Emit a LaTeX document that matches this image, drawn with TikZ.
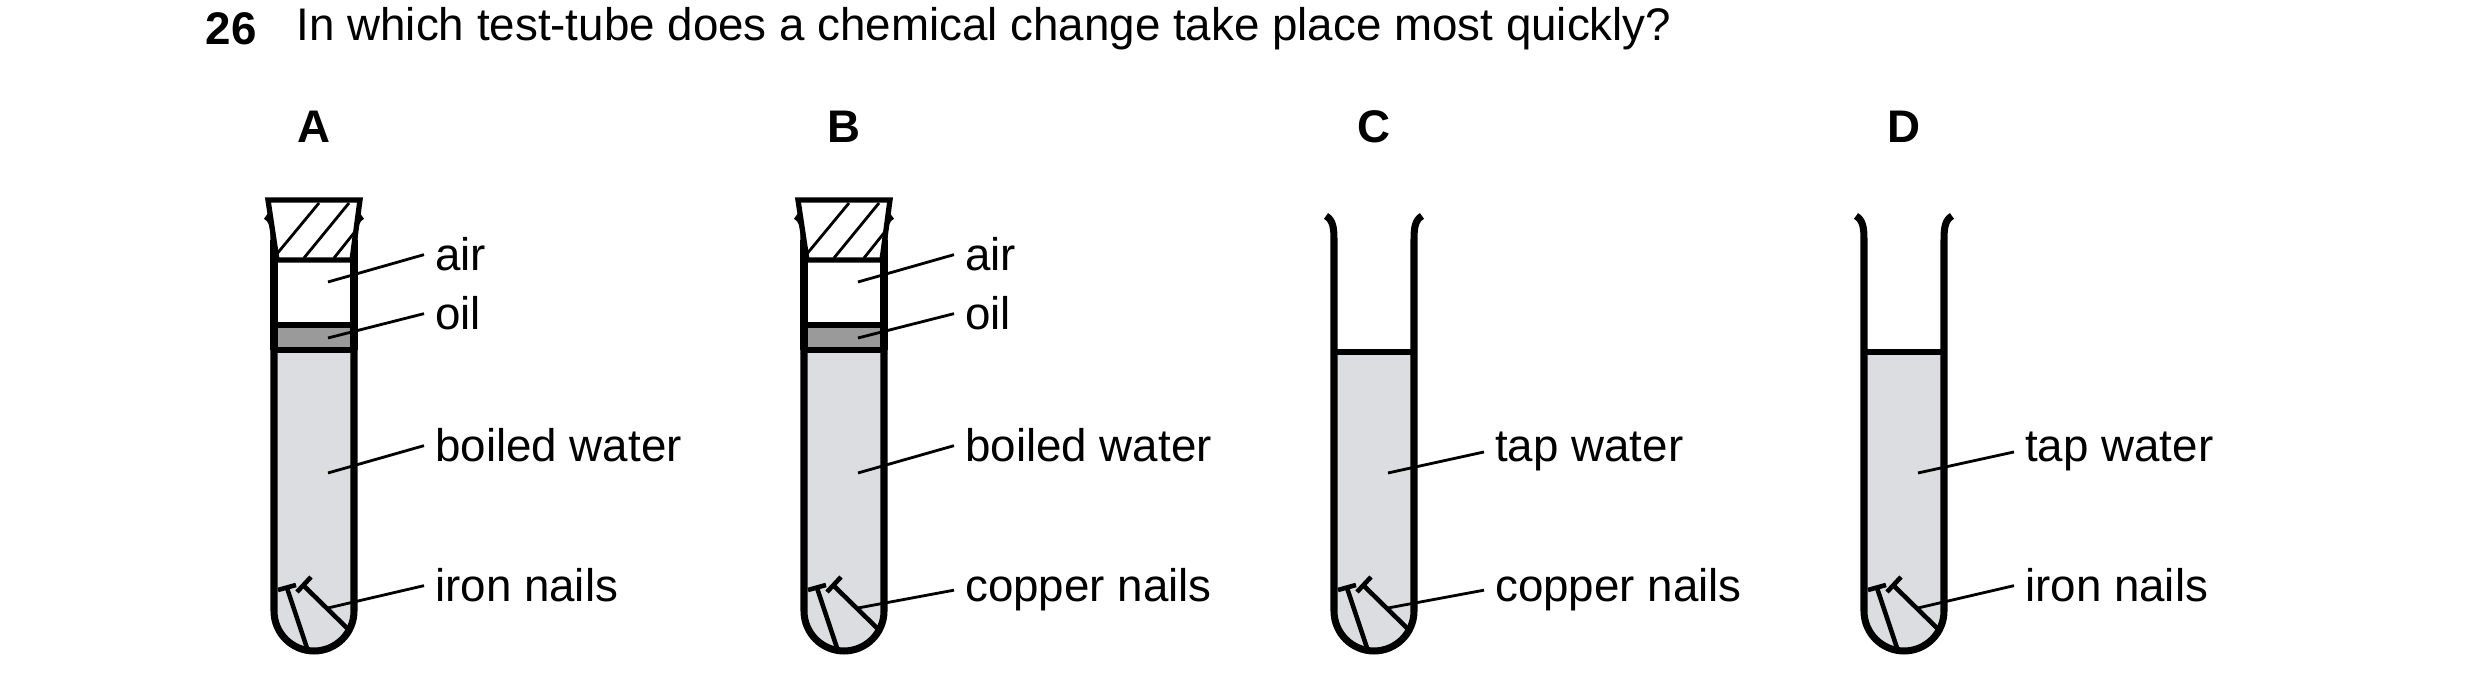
\documentclass[tikz,border=0pt]{standalone}
\usepackage{fontspec}
\setmainfont{Liberation Sans}
\definecolor{water}{HTML}{DCDDE0}
\definecolor{oilc}{HTML}{9A9A9A}
\tikzset{
  wall/.style={line width=2pt, line join=round},
  leader/.style={line width=0.8pt},
  lbl/.style={anchor=base west, inner ysep=0pt, inner xsep=3pt, font=\fontsize{13}{15}\selectfont},
  waterTop/.initial=352,
  tube/.pic={
    % contents
    \fill[water] (-40,\pgfkeysvalueof{/tikz/waterTop}) -- (-40,611) arc[start angle=180, end angle=360, x radius=40, y radius=-40] -- (40,\pgfkeysvalueof{/tikz/waterTop}) -- cycle;
    \draw[line width=1.5pt] (-40,\pgfkeysvalueof{/tikz/waterTop}) -- (40,\pgfkeysvalueof{/tikz/waterTop});
    % nails
    \draw[line width=1.3pt] (-36,590) -- (-18,585) (-27,588) -- (-7,648)
                            (-17,592) -- (-3,577) (-11,585) -- (35,630);
    % glass
    \draw[wall] (-48,216) .. controls (-41,220) and (-40,228) .. (-40,240) -- (-40,611)
      arc[start angle=180, end angle=360, x radius=40, y radius=-40] -- (40,240)
      .. controls (40,228) and (41,220) .. (48,216);
  }
}
\begin{document}
\begin{tikzpicture}[x=0.01cm, y=-0.01cm]
\useasboundingbox (0,0) rectangle (2480,692);
\node[anchor=west, inner sep=0pt, font=\fontsize{13}{15}\selectfont\bfseries] (qnum) at (205,29) {26};
\node[anchor=west, inner sep=0pt, font=\fontsize{13}{15}\selectfont] (qtext) at (296,29) {In which test-tube does a chemical change take place most quickly?};

\foreach \cx/\tl/\wat/\nails/\stop [count=\i] in
  {314/A/boiled water/iron nails/1, 844/B/boiled water/copper nails/1,
   1374/C/tap water/copper nails/0, 1904/D/tap water/iron nails/0} {
  \begin{scope}[shift={(\cx,0)}]
    \node[font=\fontsize{13}{15}\selectfont\bfseries] (t\i) at (0,127) {\tl};
    \ifnum\stop=1
      \tikzset{waterTop=350}
      \pic {tube};
      % oil layer
      \fill[oilc] (-40,325) rectangle (40,350);
      \draw[line width=1.5pt] (-40,325) -- (40,325) (-40,350) -- (40,350);
      \draw[wall] (-40,240) -- (-40,350) (40,240) -- (40,350);
      % stopper
      \draw[line width=1.5pt, fill=white] (-46,200) -- (46,200) -- (38,260) -- (-37,260) -- cycle;
      \draw[line width=0.8pt] (-38,255) -- (5,203) (-10,258) -- (35,203) (20,258) -- (40,233);
      \node[lbl] (air\i) at (110,271) {air};
      \node[lbl] (oil\i) at (110,330) {oil};
      \draw[leader] (14,282) -- (air\i.west);
      \draw[leader] (14,338) -- (oil\i.west);
    \fi
    \ifnum\stop=0 \pic {tube}; \fi
    \node[lbl] (w\i) at (110,462) {\wat};
    \node[lbl] (n\i) at (110,602) {\nails};
    \draw[leader] (14,473) -- (w\i.west);
    \draw[leader] (14,608) -- (n\i.west);
  \end{scope}
}
\end{tikzpicture}
\end{document}
